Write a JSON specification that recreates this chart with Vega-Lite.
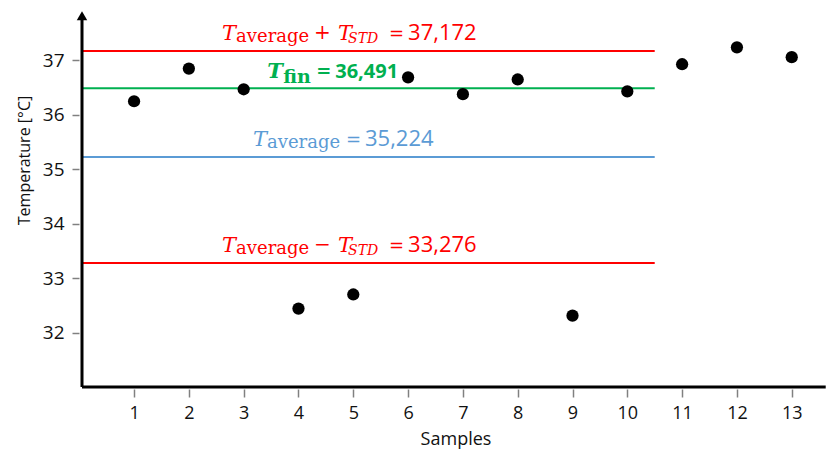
{
  "$schema": "https://vega.github.io/schema/vega-lite/v6.json",
  "width": 747,
  "height": 381,
  "autosize": {"type": "none"},
  "padding": {"left": 82, "top": 6, "right": 0, "bottom": 65},
  "background": "white",
  "config": {
    "view": {"stroke": null},
    "axis": {"grid": false, "domain": false, "tickColor": "#808080", "tickWidth": 1.5, "labelFont": "Open Sans", "labelColor": "#111111",
      "titleFont": "Open Sans", "titleFontWeight": "normal", "titleColor": "#111111"}
  },
  "datasets": {
    "samples": [
      {"sample": 1, "temp": 36.25},
      {"sample": 2, "temp": 36.85},
      {"sample": 3, "temp": 36.47},
      {"sample": 4, "temp": 32.44},
      {"sample": 5, "temp": 32.70},
      {"sample": 6, "temp": 36.69},
      {"sample": 7, "temp": 36.38},
      {"sample": 8, "temp": 36.65},
      {"sample": 9, "temp": 32.31},
      {"sample": 10, "temp": 36.43},
      {"sample": 11, "temp": 36.93},
      {"sample": 12, "temp": 37.24},
      {"sample": 13, "temp": 37.06}
    ],
    "levels": [
      {"level": "upper", "value": 37.172, "labelStart": 2.606, "sub": "average", "op": "+", "num": "37,172"},
      {"level": "fin", "value": 36.491, "labelStart": 3.43, "sub": "fin", "op": "", "num": "36,491"},
      {"level": "mean", "value": 35.224, "labelStart": 3.17, "sub": "average", "op": "", "num": "35,224"},
      {"level": "lower", "value": 33.276, "labelStart": 2.606, "sub": "average", "op": "−", "num": "33,276"}
    ]
  },
  "layer": [
    {
      "data": {"name": "levels"},
      "mark": {"type": "rule", "strokeWidth": 2},
      "encoding": {
        "x": {"datum": 0.05, "type": "quantitative",
          "scale": {"domain": [0.05, 13.68], "nice": false, "zero": false},
          "axis": {"values": [1,2,3,4,5,6,7,8,9,10,11,12,13], "format": "d", "offset": 2, "tickSize": 8,
            "labelFontSize": 18, "labelPadding": 7, "title": "Samples", "titleFontSize": 18, "titlePadding": 8}},
        "x2": {"datum": 10.5},
        "y": {"field": "value", "type": "quantitative",
          "scale": {"domain": [31, 38], "nice": false, "zero": false},
          "axis": {"values": [32,33,34,35,36,37], "format": "d", "offset": 3, "tickSize": 7,
            "labelFontSize": 19, "labelPadding": 8, "title": "Temperature [°C]", "titleFontSize": 16, "titlePadding": 10, "titleY": 154}},
        "color": {"field": "level", "type": "nominal", "legend": null,
          "scale": {"domain": ["upper", "fin", "mean", "lower"], "range": ["#FF0000", "#00B050", "#5B9BD5", "#FF0000"]}}
      }
    },
    {
      "data": {"values": [{"k": 1}]},
      "mark": {"type": "rule", "strokeWidth": 3, "color": "#000000"},
      "encoding": {"x": {"datum": 0.05}, "x2": {"datum": 13.62}, "y": {"datum": 31}}
    },
    {
      "data": {"values": [{"k": 1}]},
      "mark": {"type": "rule", "strokeWidth": 3, "color": "#000000"},
      "encoding": {"x": {"datum": 0.05}, "y": {"datum": 31}, "y2": {"datum": 37.8}}
    },
    {
      "data": {"values": [{"k": 1}]},
      "mark": {"type": "point", "shape": "triangle-up", "filled": true, "color": "#000000", "size": 110, "opacity": 1, "clip": false},
      "encoding": {"x": {"datum": 0.05}, "y": {"datum": 37.82}}
    },
    {
      "data": {"name": "samples"},
      "mark": {"type": "circle", "size": 150, "color": "#000000", "opacity": 1},
      "encoding": {"x": {"field": "sample", "type": "quantitative"}, "y": {"field": "temp", "type": "quantitative"}}
    },
    {
      "data": {"name": "levels"},
      "transform": [{"filter": "datum.level !== 'fin'"}],
      "layer": [
        {"mark": {"type": "text", "text": "T", "align": "left", "baseline": "alphabetic", "font": "DejaVu Serif", "fontStyle": "italic", "fontSize": 21, "dy": -11}},
        {"mark": {"type": "text", "align": "left", "baseline": "alphabetic", "font": "DejaVu Serif", "fontSize": 18, "dx": 14, "dy": -9}, "encoding": {"text": {"field": "sub"}}}
      ],
      "encoding": {
        "x": {"field": "labelStart", "type": "quantitative"},
        "y": {"field": "value", "type": "quantitative"},
        "color": {"field": "level", "type": "nominal"}
      }
    },
    {
      "data": {"name": "levels"},
      "transform": [{"filter": "datum.level === 'upper' || datum.level === 'lower'"}],
      "layer": [
        {"mark": {"type": "text", "align": "left", "baseline": "alphabetic", "font": "DejaVu Serif", "fontSize": 20, "dx": 92, "dy": -12}, "encoding": {"text": {"field": "op"}}},
        {"mark": {"type": "text", "text": "T", "align": "left", "baseline": "alphabetic", "font": "DejaVu Serif", "fontStyle": "italic", "fontSize": 21, "dx": 116, "dy": -11}},
        {"mark": {"type": "text", "text": "STD", "align": "left", "baseline": "alphabetic", "font": "DejaVu Serif", "fontStyle": "italic", "fontSize": 14, "dx": 126, "dy": -8}},
        {"mark": {"type": "text", "text": "=", "align": "left", "baseline": "alphabetic", "font": "DejaVu Sans", "fontSize": 18, "dx": 167, "dy": -12}},
        {"mark": {"type": "text", "align": "left", "baseline": "alphabetic", "font": "Open Sans", "fontSize": 22, "dx": 186, "dy": -11}, "encoding": {"text": {"field": "num"}}}
      ],
      "encoding": {
        "x": {"field": "labelStart", "type": "quantitative"},
        "y": {"field": "value", "type": "quantitative"},
        "color": {"field": "level", "type": "nominal"}
      }
    },
    {
      "data": {"name": "levels"},
      "transform": [{"filter": "datum.level === 'mean'"}],
      "layer": [
        {"mark": {"type": "text", "text": "=", "align": "left", "baseline": "alphabetic", "font": "DejaVu Sans", "fontSize": 18, "dx": 93, "dy": -12}},
        {"mark": {"type": "text", "align": "left", "baseline": "alphabetic", "font": "Open Sans", "fontSize": 22, "dx": 112, "dy": -11}, "encoding": {"text": {"field": "num"}}}
      ],
      "encoding": {
        "x": {"field": "labelStart", "type": "quantitative"},
        "y": {"field": "value", "type": "quantitative"},
        "color": {"field": "level", "type": "nominal"}
      }
    },
    {
      "data": {"name": "levels"},
      "transform": [{"filter": "datum.level === 'fin'"}],
      "layer": [
        {"mark": {"type": "text", "text": "T", "align": "left", "baseline": "alphabetic", "font": "DejaVu Serif", "fontStyle": "italic", "fontWeight": "bold", "fontSize": 21, "dy": -10}},
        {"mark": {"type": "text", "align": "left", "baseline": "alphabetic", "font": "DejaVu Serif", "fontWeight": "bold", "fontSize": 19, "dx": 16, "dy": -5}, "encoding": {"text": {"field": "sub"}}},
        {"mark": {"type": "text", "text": "=", "align": "left", "baseline": "alphabetic", "font": "DejaVu Sans", "fontWeight": "bold", "fontSize": 18, "dx": 49, "dy": -11}},
        {"mark": {"type": "text", "align": "left", "baseline": "alphabetic", "font": "Open Sans", "fontWeight": "bold", "fontSize": 20, "dx": 68, "dy": -10}, "encoding": {"text": {"field": "num"}}}
      ],
      "encoding": {
        "x": {"field": "labelStart", "type": "quantitative"},
        "y": {"field": "value", "type": "quantitative"},
        "color": {"field": "level", "type": "nominal"}
      }
    }
  ]
}
